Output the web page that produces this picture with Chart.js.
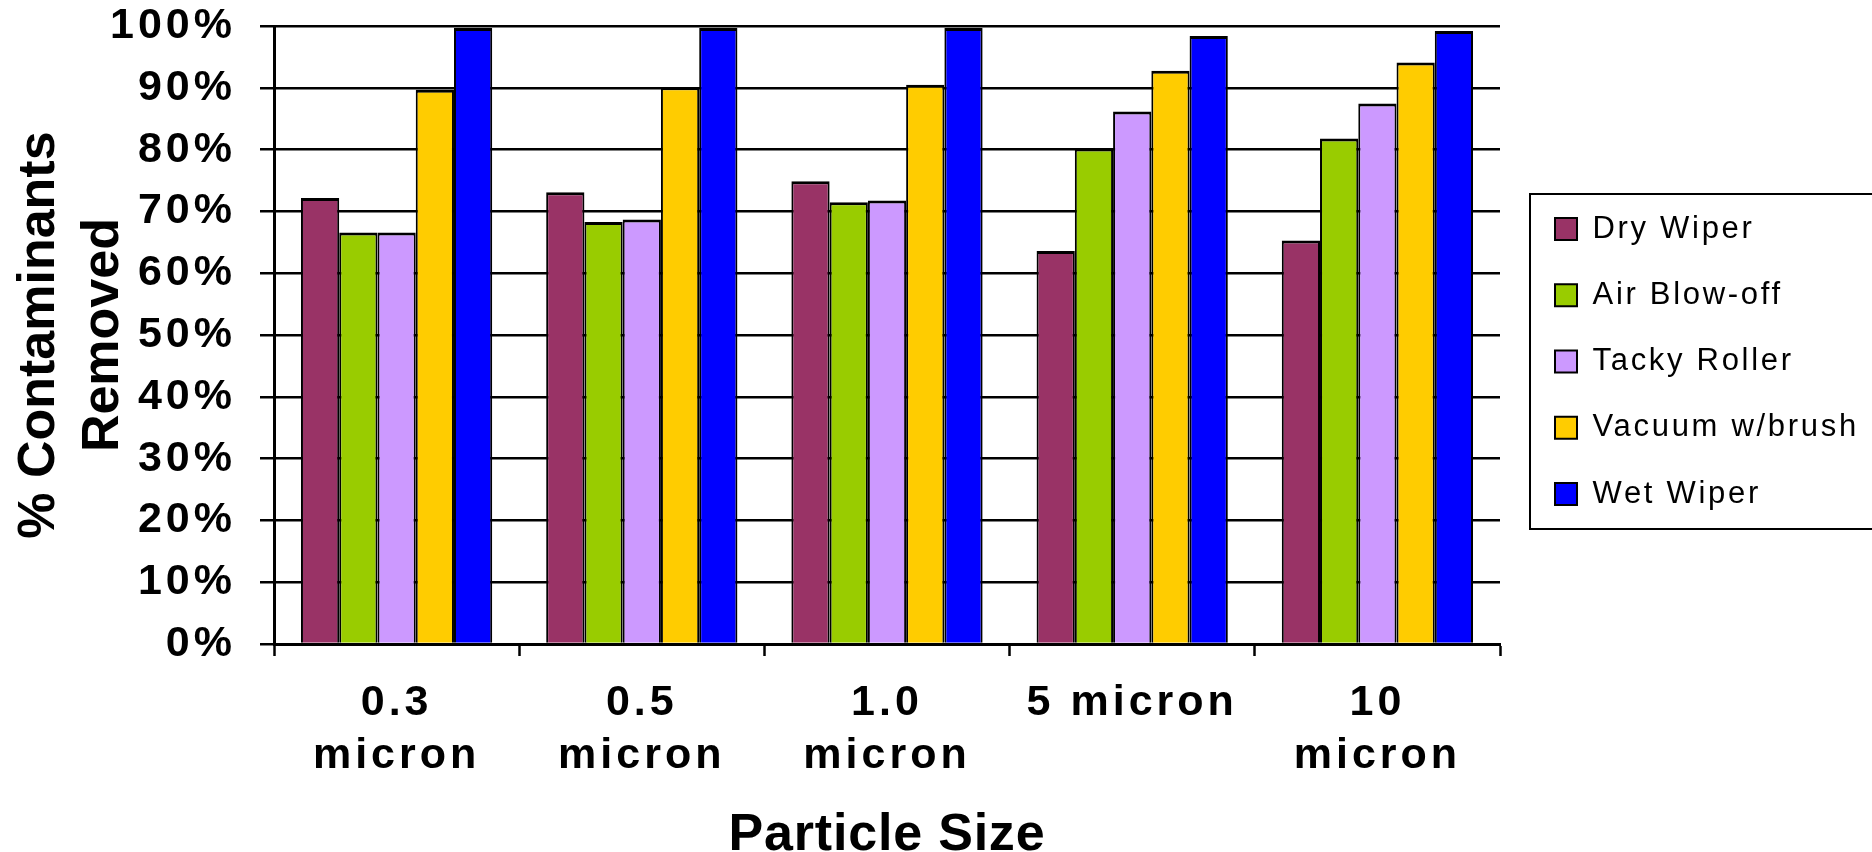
<!DOCTYPE html>
<html>
<head>
<meta charset="utf-8">
<title>Particle Size</title>
<script src="https://cdn.jsdelivr.net/npm/chart.js@4.4.1/dist/chart.umd.min.js"></script>
<style>
    html, body { margin: 0; padding: 0; background: #ffffff; }
    #wrap { width: 1872px; height: 852px; }
</style>
</head>
<body>
<div id="wrap"><canvas id="chart" width="1872" height="852"></canvas></div>
<script>
// Data
const particleSizes = [["0.3", "micron"], ["0.5", "micron"], ["1.0", "micron"], "5 micron", ["10", "micron"]];
const dryWiper = [72.2, 73.1, 74.9, 63.6, 65.3];
const airBlowOff = [66.6, 68.3, 71.5, 80.2, 81.8];
const tackyRoller = [66.6, 68.7, 71.8, 86.2, 87.5];
const vacuumBrush = [89.7, 90.1, 90.5, 92.8, 94.1];
const wetWiper = [99.7, 99.7, 99.7, 98.4, 99.2];
const seriesNames = ["Dry Wiper", "Air Blow-off", "Tacky Roller", "Vacuum w/brush", "Wet Wiper"];

// Style
const seriesValues = [dryWiper, airBlowOff, tackyRoller, vacuumBrush, wetWiper];
const seriesColors = ["#993366", "#99cc00", "#cc99ff", "#ffcc00", "#0000ff"];
const FONT = "'Liberation Sans', Arial, sans-serif";
const legendFrame = {left: 1530, top: 194, bottom: 529};
const legendFirstRow = 213.5;

Chart.defaults.font.family = FONT;
Chart.defaults.color = "#000";

// Function
const withSpacing = (target, method, spacing) => {
    if (!target || target["_spaced_" + method]) return;
    const orig = target[method];
    target[method] = function (...args) {
        const ctx = this.ctx;
        ctx.save();
        ctx.letterSpacing = spacing;
        orig.apply(this, args);
        ctx.restore();
    };
    target["_spaced_" + method] = true;
};

// Plugin: legend placement, frame and wide lettering
const frameLegend = {
    id: "frameLegend",
    afterLayout(chart) {
        const lg = chart.legend;
        const pad = lg.options.labels.padding;
        lg.left = 1555 - pad;
        lg.right = 1872;
        lg.top = legendFirstRow - pad;
        lg.bottom = 852;
        withSpacing(chart.scales.x, "drawLabels", "4px");
        withSpacing(chart.scales.x, "drawTitle", "0.8px");
        withSpacing(chart.scales.y, "drawLabels", "4px");
        withSpacing(lg, "draw", "2.7px");
    },
    afterDraw(chart) {
        const ctx = chart.ctx;
        ctx.save();
        ctx.strokeStyle = "#000";
        ctx.lineWidth = 2;
        ctx.strokeRect(legendFrame.left, legendFrame.top, 400, legendFrame.bottom - legendFrame.top);
        ctx.restore();
    }
};

const datasets = seriesNames.map((name, i) => ({
    label: name,
    data: seriesValues[i],
    backgroundColor: seriesColors[i],
    borderColor: "#000",
    borderWidth: {top: 3, left: 2, right: 2, bottom: 0},
    categoryPercentage: 0.78,
    barPercentage: 1.0
}));

new Chart(document.querySelector("#chart"), {
    type: "bar",
    data: {labels: particleSizes, datasets: datasets},
    plugins: [frameLegend],
    options: {
        responsive: false,
        devicePixelRatio: 1,
        animation: false,
        layout: {padding: {top: 24, right: 372, bottom: 0, left: 0}},
        plugins: {
            tooltip: {enabled: false},
            legend: {
                position: "chartArea",
                align: "start",
                labels: {
                    font: {size: 31, family: FONT},
                    color: "#000",
                    boxWidth: 22,
                    boxHeight: 22,
                    padding: 35.25,
                    generateLabels(chart) {
                        return Chart.defaults.plugins.legend.labels.generateLabels(chart)
                            .map(item => ({...item, lineWidth: 2, strokeStyle: "#000"}));
                    }
                }
            }
        },
        scales: {
            x: {
                afterFit: (scale) => { scale.height = 208; },
                grid: {
                    offset: true,
                    drawOnChartArea: false,
                    drawTicks: true,
                    tickLength: 12,
                    tickWidth: 2.5,
                    tickColor: "#000",
                    color: "#000"
                },
                border: {display: true, color: "#000", width: 3},
                ticks: {
                    font: {size: 43, weight: "bold", lineHeight: 1.23},
                    color: "#000",
                    padding: 21,
                    maxRotation: 0,
                    autoSkip: false
                },
                title: {
                    display: true,
                    text: "Particle Size",
                    font: {size: 52, weight: "bold", lineHeight: 0.62},
                    color: "#000",
                    padding: 0
                }
            },
            y: {
                min: 0,
                max: 100,
                afterFit: (scale) => { scale.width = 274; },
                grid: {
                    color: "#000",
                    lineWidth: 2.5,
                    drawTicks: true,
                    tickLength: 14,
                    tickWidth: 2.5,
                    tickColor: "#000"
                },
                border: {display: true, color: "#000", width: 3},
                ticks: {
                    stepSize: 10,
                    font: {size: 43, weight: "bold", lineHeight: 0.1},
                    color: "#000",
                    padding: 24,
                    autoSkip: false,
                    callback: (v) => v + "%"
                },
                title: {
                    display: true,
                    text: ["% Contaminants", "Removed"],
                    font: {size: 52, weight: "bold", lineHeight: 1.23},
                    color: "#000",
                    padding: {top: 8, bottom: 0}
                }
            }
        }
    }
});
</script>
</body>
</html>
